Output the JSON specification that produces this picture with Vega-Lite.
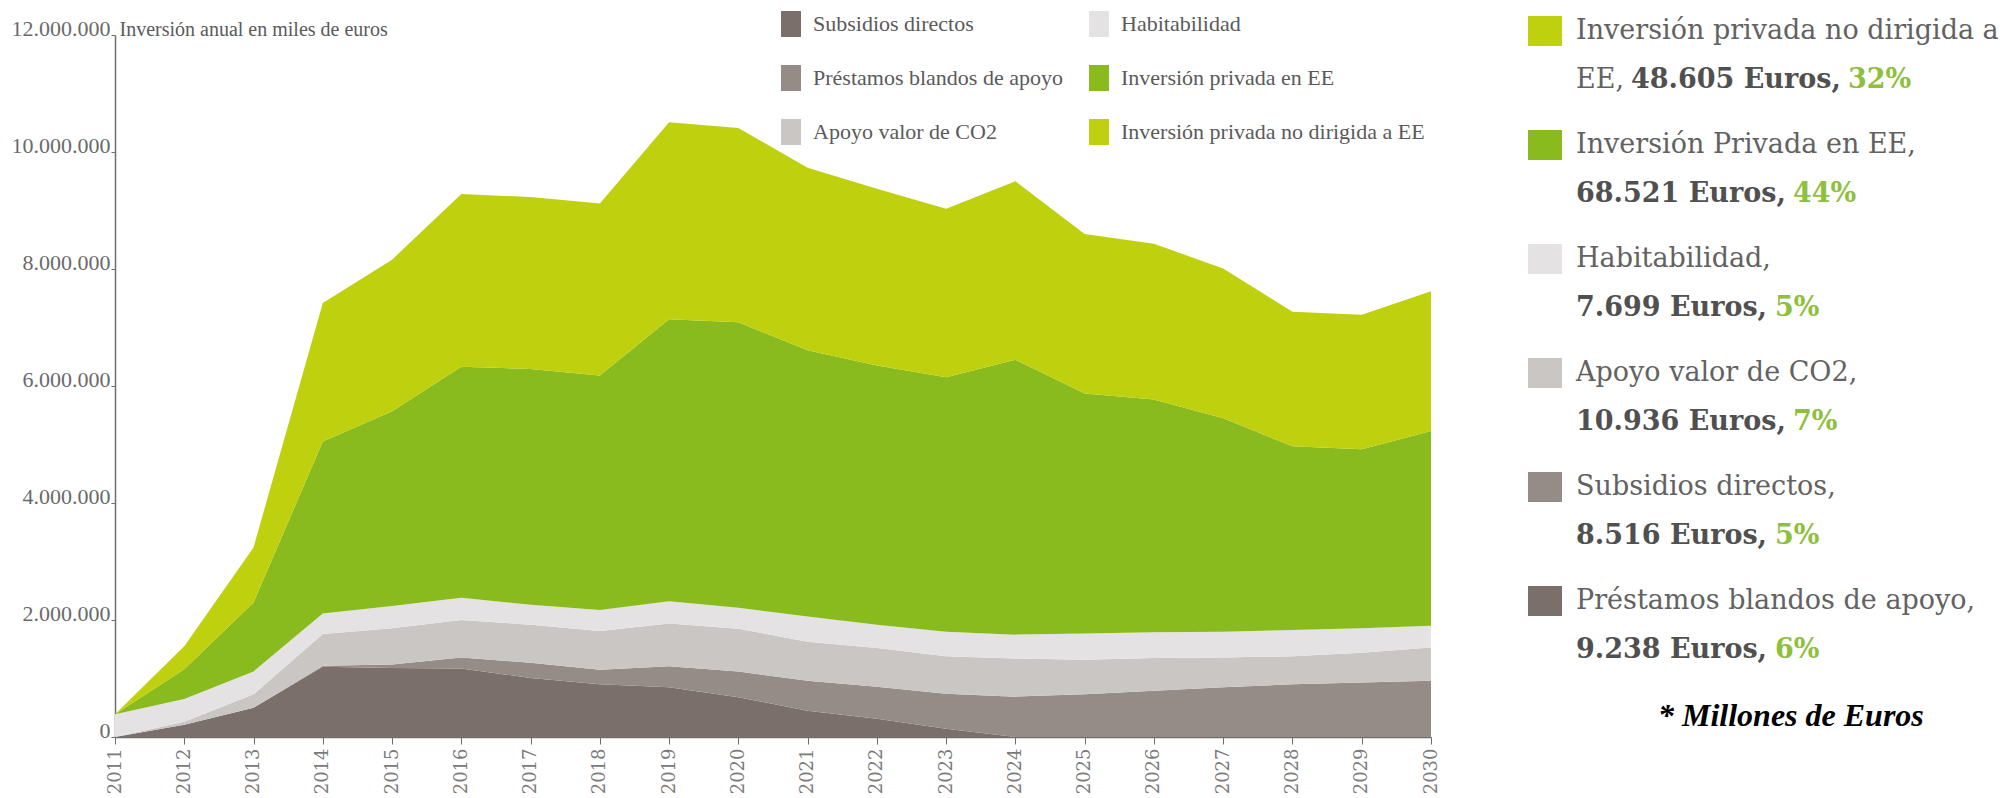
{
  "$schema": "https://vega.github.io/schema/vega-lite/v6.json",
  "background": "white",
  "padding": {"left": 11, "top": 11, "right": 5, "bottom": 0},
  "spacing": 87,
  "config": {
    "view": {"stroke": null},
    "font": "Liberation Serif"
  },
  "resolve": {
    "scale": {"color": "independent", "x": "independent", "y": "independent"},
    "legend": {"color": "independent"}
  },
  "hconcat": [
    {
      "width": 1316,
      "height": 702,
      "data": {
        "values": [
          {"anio": 2011, "serie": "Subsidios directos", "orden": 1, "valor": 0},
          {"anio": 2011, "serie": "Préstamos blandos de apoyo", "orden": 2, "valor": 0},
          {"anio": 2011, "serie": "Apoyo valor de CO2", "orden": 3, "valor": 0},
          {"anio": 2011, "serie": "Habitabilidad", "orden": 4, "valor": 390000},
          {"anio": 2011, "serie": "Inversión privada en EE", "orden": 5, "valor": 0},
          {"anio": 2011, "serie": "Inversión privada no dirigida a EE", "orden": 6, "valor": 0},
          {"anio": 2012, "serie": "Subsidios directos", "orden": 1, "valor": 210000},
          {"anio": 2012, "serie": "Préstamos blandos de apoyo", "orden": 2, "valor": 0},
          {"anio": 2012, "serie": "Apoyo valor de CO2", "orden": 3, "valor": 50000},
          {"anio": 2012, "serie": "Habitabilidad", "orden": 4, "valor": 390000},
          {"anio": 2012, "serie": "Inversión privada en EE", "orden": 5, "valor": 510000},
          {"anio": 2012, "serie": "Inversión privada no dirigida a EE", "orden": 6, "valor": 390000},
          {"anio": 2013, "serie": "Subsidios directos", "orden": 1, "valor": 500000},
          {"anio": 2013, "serie": "Préstamos blandos de apoyo", "orden": 2, "valor": 0},
          {"anio": 2013, "serie": "Apoyo valor de CO2", "orden": 3, "valor": 230000},
          {"anio": 2013, "serie": "Habitabilidad", "orden": 4, "valor": 390000},
          {"anio": 2013, "serie": "Inversión privada en EE", "orden": 5, "valor": 1180000},
          {"anio": 2013, "serie": "Inversión privada no dirigida a EE", "orden": 6, "valor": 940000},
          {"anio": 2014, "serie": "Subsidios directos", "orden": 1, "valor": 1200000},
          {"anio": 2014, "serie": "Préstamos blandos de apoyo", "orden": 2, "valor": 20000},
          {"anio": 2014, "serie": "Apoyo valor de CO2", "orden": 3, "valor": 540000},
          {"anio": 2014, "serie": "Habitabilidad", "orden": 4, "valor": 350000},
          {"anio": 2014, "serie": "Inversión privada en EE", "orden": 5, "valor": 2940000},
          {"anio": 2014, "serie": "Inversión privada no dirigida a EE", "orden": 6, "valor": 2370000},
          {"anio": 2015, "serie": "Subsidios directos", "orden": 1, "valor": 1180000},
          {"anio": 2015, "serie": "Préstamos blandos de apoyo", "orden": 2, "valor": 60000},
          {"anio": 2015, "serie": "Apoyo valor de CO2", "orden": 3, "valor": 620000},
          {"anio": 2015, "serie": "Habitabilidad", "orden": 4, "valor": 380000},
          {"anio": 2015, "serie": "Inversión privada en EE", "orden": 5, "valor": 3330000},
          {"anio": 2015, "serie": "Inversión privada no dirigida a EE", "orden": 6, "valor": 2590000},
          {"anio": 2016, "serie": "Subsidios directos", "orden": 1, "valor": 1170000},
          {"anio": 2016, "serie": "Préstamos blandos de apoyo", "orden": 2, "valor": 190000},
          {"anio": 2016, "serie": "Apoyo valor de CO2", "orden": 3, "valor": 640000},
          {"anio": 2016, "serie": "Habitabilidad", "orden": 4, "valor": 380000},
          {"anio": 2016, "serie": "Inversión privada en EE", "orden": 5, "valor": 3950000},
          {"anio": 2016, "serie": "Inversión privada no dirigida a EE", "orden": 6, "valor": 2950000},
          {"anio": 2017, "serie": "Subsidios directos", "orden": 1, "valor": 1010000},
          {"anio": 2017, "serie": "Préstamos blandos de apoyo", "orden": 2, "valor": 260000},
          {"anio": 2017, "serie": "Apoyo valor de CO2", "orden": 3, "valor": 650000},
          {"anio": 2017, "serie": "Habitabilidad", "orden": 4, "valor": 340000},
          {"anio": 2017, "serie": "Inversión privada en EE", "orden": 5, "valor": 4030000},
          {"anio": 2017, "serie": "Inversión privada no dirigida a EE", "orden": 6, "valor": 2940000},
          {"anio": 2018, "serie": "Subsidios directos", "orden": 1, "valor": 900000},
          {"anio": 2018, "serie": "Préstamos blandos de apoyo", "orden": 2, "valor": 250000},
          {"anio": 2018, "serie": "Apoyo valor de CO2", "orden": 3, "valor": 660000},
          {"anio": 2018, "serie": "Habitabilidad", "orden": 4, "valor": 360000},
          {"anio": 2018, "serie": "Inversión privada en EE", "orden": 5, "valor": 4010000},
          {"anio": 2018, "serie": "Inversión privada no dirigida a EE", "orden": 6, "valor": 2940000},
          {"anio": 2019, "serie": "Subsidios directos", "orden": 1, "valor": 850000},
          {"anio": 2019, "serie": "Préstamos blandos de apoyo", "orden": 2, "valor": 360000},
          {"anio": 2019, "serie": "Apoyo valor de CO2", "orden": 3, "valor": 730000},
          {"anio": 2019, "serie": "Habitabilidad", "orden": 4, "valor": 380000},
          {"anio": 2019, "serie": "Inversión privada en EE", "orden": 5, "valor": 4820000},
          {"anio": 2019, "serie": "Inversión privada no dirigida a EE", "orden": 6, "valor": 3370000},
          {"anio": 2020, "serie": "Subsidios directos", "orden": 1, "valor": 680000},
          {"anio": 2020, "serie": "Préstamos blandos de apoyo", "orden": 2, "valor": 440000},
          {"anio": 2020, "serie": "Apoyo valor de CO2", "orden": 3, "valor": 730000},
          {"anio": 2020, "serie": "Habitabilidad", "orden": 4, "valor": 360000},
          {"anio": 2020, "serie": "Inversión privada en EE", "orden": 5, "valor": 4880000},
          {"anio": 2020, "serie": "Inversión privada no dirigida a EE", "orden": 6, "valor": 3320000},
          {"anio": 2021, "serie": "Subsidios directos", "orden": 1, "valor": 450000},
          {"anio": 2021, "serie": "Préstamos blandos de apoyo", "orden": 2, "valor": 510000},
          {"anio": 2021, "serie": "Apoyo valor de CO2", "orden": 3, "valor": 670000},
          {"anio": 2021, "serie": "Habitabilidad", "orden": 4, "valor": 430000},
          {"anio": 2021, "serie": "Inversión privada en EE", "orden": 5, "valor": 4550000},
          {"anio": 2021, "serie": "Inversión privada no dirigida a EE", "orden": 6, "valor": 3120000},
          {"anio": 2022, "serie": "Subsidios directos", "orden": 1, "valor": 310000},
          {"anio": 2022, "serie": "Préstamos blandos de apoyo", "orden": 2, "valor": 550000},
          {"anio": 2022, "serie": "Apoyo valor de CO2", "orden": 3, "valor": 660000},
          {"anio": 2022, "serie": "Habitabilidad", "orden": 4, "valor": 400000},
          {"anio": 2022, "serie": "Inversión privada en EE", "orden": 5, "valor": 4430000},
          {"anio": 2022, "serie": "Inversión privada no dirigida a EE", "orden": 6, "valor": 3020000},
          {"anio": 2023, "serie": "Subsidios directos", "orden": 1, "valor": 140000},
          {"anio": 2023, "serie": "Préstamos blandos de apoyo", "orden": 2, "valor": 600000},
          {"anio": 2023, "serie": "Apoyo valor de CO2", "orden": 3, "valor": 640000},
          {"anio": 2023, "serie": "Habitabilidad", "orden": 4, "valor": 420000},
          {"anio": 2023, "serie": "Inversión privada en EE", "orden": 5, "valor": 4350000},
          {"anio": 2023, "serie": "Inversión privada no dirigida a EE", "orden": 6, "valor": 2880000},
          {"anio": 2024, "serie": "Subsidios directos", "orden": 1, "valor": 0},
          {"anio": 2024, "serie": "Préstamos blandos de apoyo", "orden": 2, "valor": 690000},
          {"anio": 2024, "serie": "Apoyo valor de CO2", "orden": 3, "valor": 650000},
          {"anio": 2024, "serie": "Habitabilidad", "orden": 4, "valor": 410000},
          {"anio": 2024, "serie": "Inversión privada en EE", "orden": 5, "valor": 4700000},
          {"anio": 2024, "serie": "Inversión privada no dirigida a EE", "orden": 6, "valor": 3050000},
          {"anio": 2025, "serie": "Subsidios directos", "orden": 1, "valor": 0},
          {"anio": 2025, "serie": "Préstamos blandos de apoyo", "orden": 2, "valor": 730000},
          {"anio": 2025, "serie": "Apoyo valor de CO2", "orden": 3, "valor": 590000},
          {"anio": 2025, "serie": "Habitabilidad", "orden": 4, "valor": 450000},
          {"anio": 2025, "serie": "Inversión privada en EE", "orden": 5, "valor": 4100000},
          {"anio": 2025, "serie": "Inversión privada no dirigida a EE", "orden": 6, "valor": 2730000},
          {"anio": 2026, "serie": "Subsidios directos", "orden": 1, "valor": 0},
          {"anio": 2026, "serie": "Préstamos blandos de apoyo", "orden": 2, "valor": 790000},
          {"anio": 2026, "serie": "Apoyo valor de CO2", "orden": 3, "valor": 560000},
          {"anio": 2026, "serie": "Habitabilidad", "orden": 4, "valor": 440000},
          {"anio": 2026, "serie": "Inversión privada en EE", "orden": 5, "valor": 3980000},
          {"anio": 2026, "serie": "Inversión privada no dirigida a EE", "orden": 6, "valor": 2660000},
          {"anio": 2027, "serie": "Subsidios directos", "orden": 1, "valor": 0},
          {"anio": 2027, "serie": "Préstamos blandos de apoyo", "orden": 2, "valor": 850000},
          {"anio": 2027, "serie": "Apoyo valor de CO2", "orden": 3, "valor": 510000},
          {"anio": 2027, "serie": "Habitabilidad", "orden": 4, "valor": 440000},
          {"anio": 2027, "serie": "Inversión privada en EE", "orden": 5, "valor": 3650000},
          {"anio": 2027, "serie": "Inversión privada no dirigida a EE", "orden": 6, "valor": 2560000},
          {"anio": 2028, "serie": "Subsidios directos", "orden": 1, "valor": 0},
          {"anio": 2028, "serie": "Préstamos blandos de apoyo", "orden": 2, "valor": 900000},
          {"anio": 2028, "serie": "Apoyo valor de CO2", "orden": 3, "valor": 480000},
          {"anio": 2028, "serie": "Habitabilidad", "orden": 4, "valor": 450000},
          {"anio": 2028, "serie": "Inversión privada en EE", "orden": 5, "valor": 3140000},
          {"anio": 2028, "serie": "Inversión privada no dirigida a EE", "orden": 6, "valor": 2300000},
          {"anio": 2029, "serie": "Subsidios directos", "orden": 1, "valor": 0},
          {"anio": 2029, "serie": "Préstamos blandos de apoyo", "orden": 2, "valor": 930000},
          {"anio": 2029, "serie": "Apoyo valor de CO2", "orden": 3, "valor": 510000},
          {"anio": 2029, "serie": "Habitabilidad", "orden": 4, "valor": 420000},
          {"anio": 2029, "serie": "Inversión privada en EE", "orden": 5, "valor": 3060000},
          {"anio": 2029, "serie": "Inversión privada no dirigida a EE", "orden": 6, "valor": 2300000},
          {"anio": 2030, "serie": "Subsidios directos", "orden": 1, "valor": 0},
          {"anio": 2030, "serie": "Préstamos blandos de apoyo", "orden": 2, "valor": 960000},
          {"anio": 2030, "serie": "Apoyo valor de CO2", "orden": 3, "valor": 570000},
          {"anio": 2030, "serie": "Habitabilidad", "orden": 4, "valor": 370000},
          {"anio": 2030, "serie": "Inversión privada en EE", "orden": 5, "valor": 3330000},
          {"anio": 2030, "serie": "Inversión privada no dirigida a EE", "orden": 6, "valor": 2390000}
        ]
      },
      "mark": {"type": "area", "interpolate": "linear", "opacity": 1},
      "encoding": {
        "x": {
          "field": "anio",
          "type": "quantitative",
          "scale": {"domain": [2011, 2030], "nice": false, "zero": false},
          "axis": {
            "title": null,
            "values": [2011, 2012, 2013, 2014, 2015, 2016, 2017, 2018, 2019, 2020, 2021, 2022, 2023, 2024, 2025, 2026, 2027, 2028, 2029, 2030],
            "format": "d",
            "labelAngle": 270,
            "labelFont": "DejaVu Serif",
            "labelFontSize": 18,
            "labelColor": "#7a7a7a",
            "labelPadding": 4,
            "tickSize": 7,
            "tickColor": "#6e6e6e",
            "domainColor": "#6e6e6e",
            "domainWidth": 1.5,
            "grid": false,
            "labelOverlap": false
          }
        },
        "y": {
          "field": "valor",
          "type": "quantitative",
          "stack": "zero",
          "scale": {"domain": [0, 12000000], "nice": false},
          "axis": {
            "title": "Inversión anual en miles de euros",
            "titleAngle": 0,
            "titleAlign": "left",
            "titleBaseline": "alphabetic",
            "titleX": 4,
            "titleY": 0,
            "titleFont": "Liberation Serif",
            "titleFontSize": 20,
            "titleFontWeight": "normal",
            "titleColor": "#5a5a5a",
            "values": [0, 2000000, 4000000, 6000000, 8000000, 10000000, 12000000],
            "labelExpr": "replace(format(datum.value, ','), regexp(',', 'g'), '.')",
            "labelFont": "Liberation Serif",
            "labelFontSize": 22,
            "labelColor": "#6a6a6a",
            "labelBaseline": "alphabetic",
            "labelPadding": 1,
            "tickSize": 4,
            "tickColor": "#6e6e6e",
            "domainColor": "#6e6e6e",
            "domainWidth": 1.5,
            "grid": false
          }
        },
        "color": {
          "field": "serie",
          "type": "nominal",
          "scale": {
            "domain": ["Subsidios directos", "Préstamos blandos de apoyo", "Apoyo valor de CO2", "Habitabilidad", "Inversión privada en EE", "Inversión privada no dirigida a EE"],
            "range": ["#7b6f6b", "#958c87", "#cac6c3", "#e4e2e3", "#8abb1e", "#bfd00e"]
          },
          "legend": {
            "title": null,
            "orient": "none",
            "legendX": 663,
            "legendY": -24,
            "columns": 2,
            "columnPadding": 23,
            "rowPadding": 28,
            "padding": 0,
            "symbolType": "M-0.77,-1H0.77V1H-0.77Z",
            "symbolSize": 676,
            "symbolStrokeWidth": 0,
            "symbolOpacity": 1,
            "labelFont": "Liberation Serif",
            "labelFontSize": 22,
            "labelColor": "#5a5a5a",
            "labelOffset": 9,
            "labelLimit": 500
          }
        },
        "order": {"field": "orden", "type": "quantitative", "sort": "ascending"}
      }
    },
    {
      "width": 2,
      "height": 570,
      "data": {
        "values": [
          {"orden": 1, "muestra": "Inversión privada no dirigida a EE", "linea1": "Inversión privada no dirigida a", "prefijo": "EE,", "importe": "48.605 Euros,", "pct": "32%"},
          {"orden": 2, "muestra": "Inversión privada en EE", "linea1": "Inversión Privada en EE,", "importe": "68.521 Euros,", "pct": "44%"},
          {"orden": 3, "muestra": "Habitabilidad", "linea1": "Habitabilidad,", "importe": "7.699 Euros,", "pct": "5%"},
          {"orden": 4, "muestra": "Apoyo valor de CO2", "linea1": "Apoyo valor de CO2,", "importe": "10.936 Euros,", "pct": "7%"},
          {"orden": 5, "muestra": "Préstamos blandos de apoyo", "linea1": "Subsidios directos,", "importe": "8.516 Euros,", "pct": "5%"},
          {"orden": 6, "muestra": "Subsidios directos", "linea1": "Préstamos blandos de apoyo,", "importe": "9.238 Euros,", "pct": "6%"}
        ]
      },
      "title": {
        "text": "* Millones de Euros",
        "orient": "bottom",
        "anchor": "middle",
        "frame": "bounds",
        "font": "Liberation Serif",
        "fontSize": 32,
        "fontStyle": "italic",
        "fontWeight": "bold",
        "color": "#000000",
        "offset": 38,
        "dx": 28
      },
      "encoding": {
        "y": {"field": "orden", "type": "ordinal", "scale": {"type": "point", "padding": 0}, "axis": null}
      },
      "layer": [
        {
          "mark": {"type": "point", "shape": "M-1,-0.88H1V0.88H-1Z", "filled": true, "size": 1156, "opacity": 1, "strokeWidth": 0, "xOffset": 17, "yOffset": -4},
          "encoding": {
            "color": {
              "field": "muestra",
              "type": "nominal",
              "scale": {
                "domain": ["Subsidios directos", "Préstamos blandos de apoyo", "Apoyo valor de CO2", "Habitabilidad", "Inversión privada en EE", "Inversión privada no dirigida a EE"],
                "range": ["#7b6f6b", "#958c87", "#cac6c3", "#e4e2e3", "#8abb1e", "#bfd00e"]
              },
              "legend": null
            }
          }
        },
        {
          "mark": {"type": "text", "align": "left", "baseline": "middle", "dx": 48, "dy": -4, "font": "DejaVu Serif", "fontSize": 27, "fill": "#626262"},
          "encoding": {"text": {"field": "linea1", "type": "nominal"}}
        },
        {
          "transform": [{"filter": "datum.orden == 1"}],
          "mark": {"type": "text", "align": "left", "baseline": "middle", "dx": 48, "dy": 45, "font": "DejaVu Serif", "fontSize": 27, "fill": "#626262"},
          "encoding": {"text": {"field": "prefijo", "type": "nominal"}}
        },
        {
          "transform": [{"filter": "datum.orden == 1"}],
          "mark": {"type": "text", "align": "left", "baseline": "middle", "dx": 103, "dy": 45, "font": "DejaVu Serif", "fontSize": 27, "fontWeight": "bold", "fill": "#505050"},
          "encoding": {"text": {"field": "importe", "type": "nominal"}}
        },
        {
          "transform": [{"filter": "datum.orden != 1"}],
          "mark": {"type": "text", "align": "left", "baseline": "middle", "dx": 48, "dy": 45, "font": "DejaVu Serif", "fontSize": 27, "fontWeight": "bold", "fill": "#505050"},
          "encoding": {"text": {"field": "importe", "type": "nominal"}}
        },
        {
          "transform": [{"filter": "datum.orden == 1"}],
          "mark": {"type": "text", "align": "left", "baseline": "middle", "dx": 320, "dy": 45, "font": "DejaVu Serif", "fontSize": 27, "fontWeight": "bold", "fill": "#8dc03c"},
          "encoding": {"text": {"field": "pct", "type": "nominal"}}
        },
        {
          "transform": [{"filter": "datum.orden != 1 && length(datum.importe) == 13"}],
          "mark": {"type": "text", "align": "left", "baseline": "middle", "dx": 265, "dy": 45, "font": "DejaVu Serif", "fontSize": 27, "fontWeight": "bold", "fill": "#8dc03c"},
          "encoding": {"text": {"field": "pct", "type": "nominal"}}
        },
        {
          "transform": [{"filter": "datum.orden != 1 && length(datum.importe) == 12"}],
          "mark": {"type": "text", "align": "left", "baseline": "middle", "dx": 247, "dy": 45, "font": "DejaVu Serif", "fontSize": 27, "fontWeight": "bold", "fill": "#8dc03c"},
          "encoding": {"text": {"field": "pct", "type": "nominal"}}
        }
      ]
    }
  ]
}
